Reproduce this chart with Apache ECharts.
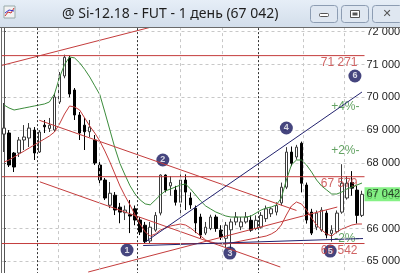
<!DOCTYPE html>
<html><head><meta charset="utf-8">
<script src="https://cdn.jsdelivr.net/npm/echarts@6/dist/echarts.min.js"></script>
<style>html,body{margin:0;padding:0;background:#fff;overflow:hidden}#c{width:400px;height:273px;}</style>
</head><body><div id="c"></div>
<script>
// ---- data ----
const opens  = [68878,68912,68300,68302,68698,68759,69000,68332,69150,69050,69003,69856,70650,71200,70222,69460,69150,68950,68698,67935,67478,66710,67015,66650,66480,66420,66600,66258,66100,65620,65950,66470,67630,67300,67170,66800,67478,66930,66620,66350,65860,66000,66350,65950,65700,65960,66200,66050,66200,66250,66000,66040,66300,66450,66500,66780,67260,68330,68180,68600,67325,66500,66040,65950,66470,65850,65900,66500,66930,67400,67170,66400];
const closes = [69061,67936,67875,68698,68790,69061,68302,68942,69100,69150,70009,70680,71220,70100,69460,68912,68950,69090,67996,67478,66929,67075,66563,66500,66560,66380,66258,65891,65600,66040,66400,67630,67170,67400,66800,67478,67110,66720,66170,65800,66040,66350,66000,65740,66100,66200,66350,66200,66350,65950,66250,66400,66600,66600,66700,67260,68330,67990,68480,67380,66258,65860,66470,66560,65800,65950,66470,67380,67380,67230,66400,67042];
const lows   = [68332,67875,67722,68180,68393,68485,68088,68302,68912,68942,68942,69795,70580,70000,69308,68698,68393,68790,67935,67325,66868,66620,66410,66160,66258,65860,66100,65800,65542,65542,65900,66400,67100,67000,66700,66400,66563,66600,65860,65700,65800,65950,65900,65650,65400,65400,66100,65950,66150,65900,65950,66000,66200,66350,66400,66700,67200,67900,68100,67100,66150,65800,65950,65900,65700,65600,65850,66450,66880,67000,66150,66350];
const highs  = [69826,69000,68332,68790,69154,69215,69093,69000,69308,69370,70131,70771,71300,71271,70283,69552,69370,69308,68850,68088,67540,67417,67110,66780,66700,66868,66700,66350,66200,66200,66500,67650,67650,67600,67300,67650,67650,67100,66700,66450,66200,66420,66420,66100,66200,66300,66500,66350,66500,66400,66400,66500,66700,66650,66800,67400,68480,68500,68550,68650,67400,66600,66550,66650,66550,66100,66550,67960,67600,67750,67300,67150];
const greenMA = [69765,69674,69613,69643,69674,69704,69735,69765,69796,69857,70100,70600,71000,71230,71200,71050,70850,70620,70350,70080,69550,69000,68450,67980,67630,67300,67050,66870,66750,66720,66868,67021,67143,67204,67265,67326,67356,67204,67021,66838,66686,66594,66503,66442,66381,66350,66350,66350,66350,66381,66472,66564,66625,66655,66716,66929,67478,67936,68088,68088,67936,67722,67478,67295,67173,67051,67051,67112,67204,67265,67326,67386];
const redMA = [68027,68088,68180,68271,68363,68454,68546,68637,68729,68820,68942,69186,69491,69735,69704,69613,69369,69125,68911,68667,68363,68027,67661,67296,66991,66716,66411,66137,65893,65771,65832,65954,66015,66076,66106,66137,66106,66015,65893,65771,65649,65588,65557,65527,65527,65557,65588,65618,65649,65679,65710,65740,65771,65832,65923,66106,66411,66686,66808,66747,66564,66320,66106,65954,65832,65771,65893,65984,66045,66106,66137,66137];
const levels = [71271, 67579, 65542];
const levelLabels = ['71 271', '67 579', '65 542'];
const pctLevels = [69724, 68383, 65701];
const pctLabels = ['+4%-', '+2%-', '-2%-'];
const redTrends = [
  [[-1, 70950], [35, 72370]],
  [[7, 69300], [58, 66550]],
  [[7.1, 67423], [54.8, 64826]],
  [[16.7, 64673], [66.1, 66655]]
];
const navyTrends = [
  [[27.6, 65481], [71.2, 65694]],
  [[28, 65588], [71, 70161]]
];
const markerNums = ['1','2','3','4','5','6'];
const markerPos = [[24.4,65344],[31.5,68088],[44.8,65252],[56,69064],[64.7,65313],[69.6,70649]];
const monthLines = [6.5, 26.5, 50.5];
const gridLines = [10.7, 18.9, 35, 43.3, 59.3, 67.4];
const lastPrice = 67042;
const titleText = '@ Si-12.18 - FUT - 1 день (67 042)';

// ---- chart ----
const N = opens.length;
const cats = opens.map((_, i) => String(i));
const candle = opens.map((o, i) => [o, closes[i], lows[i], highs[i]]);
const fmt = v => String(v).replace(/\B(?=(\d{3})+(?!\d))/g, ' ');
const RED = '#c43c3c', NAVY = '#22226e', GREEN = '#3c8c3c';

const series = [
  { type: 'candlestick', data: candle, barWidth: 3,
    itemStyle: { color: '#ffffff', color0: '#000000', borderColor: '#3a3a3a', borderColor0: '#000000', borderWidth: 1 } },
  { type: 'line', data: greenMA, symbol: 'none', lineStyle: { color: GREEN, width: 1 } },
  { type: 'line', data: redMA, symbol: 'none', lineStyle: { color: RED, width: 1 } },
  { type: 'line', xAxisIndex: 1, data: [], symbol: 'none', silent: true,
    markLine: { silent: true, symbol: 'none', label: { show: false },
      data: monthLines.map(v => ({ xAxis: v, lineStyle: { color: '#333', type: [2, 2], width: 1 } }))
        .concat(gridLines.map(v => ({ xAxis: v, lineStyle: { color: '#c8c8c8', type: [3, 3], width: 1 } }))) } }
];
levels.forEach(lv => series.push({ type: 'line', xAxisIndex: 1, data: [[-0.5, lv], [N - 0.5, lv]], symbol: 'none', lineStyle: { color: RED, width: 1 } }));
redTrends.forEach(t => series.push({ type: 'line', xAxisIndex: 1, data: t, symbol: 'none', lineStyle: { color: RED, width: 1 } }));
navyTrends.forEach(t => series.push({ type: 'line', xAxisIndex: 1, data: t, symbol: 'none', lineStyle: { color: NAVY, width: 1 } }));
series.push({ type: 'scatter', xAxisIndex: 1, symbolSize: 0, clip: false,
  data: levels.map((lv, i) => ({ value: [N - 0.9, lv], label: { formatter: levelLabels[i] } })),
  label: { show: true, position: 'left', offset: [0, 7], color: RED, fontSize: 12, fontFamily: 'Liberation Sans' } });
series.push({ type: 'scatter', xAxisIndex: 1, symbolSize: 0, clip: false,
  data: pctLevels.map((lv, i) => ({ value: [N - 0.5, lv], label: { formatter: pctLabels[i] } })),
  label: { show: true, position: 'left', offset: [0, 0], color: GREEN, fontSize: 12, fontFamily: 'Liberation Sans' } });
series.push({ type: 'scatter', xAxisIndex: 1, symbol: 'circle', symbolSize: 13, clip: false,
  itemStyle: { color: '#16165e' },
  data: markerPos.map((p, i) => ({ value: p, label: { formatter: markerNums[i] } })),
  label: { show: true, position: 'inside', color: '#fff', fontSize: 9, fontWeight: 'bold', fontFamily: 'Liberation Sans' } });
series.push({ type: 'scatter', xAxisIndex: 1, symbolSize: 0, clip: false,
  data: [[N - 0.5, lastPrice]],
  label: { show: true, position: 'right', distance: 0, formatter: fmt(lastPrice), backgroundColor: '#66ee66', color: '#111', fontSize: 11, fontFamily: 'Liberation Sans', padding: [2, 1, 1, 2] } });

const chart = echarts.init(document.getElementById('c'), null, { renderer: 'canvas' });
chart.setOption({
  animation: false,
  backgroundColor: '#ffffff',
  grid: { left: 1.5, top: -1.1, width: 363, height: 295.2, containLabel: false, outerBoundsMode: 'none' },
  xAxis: [
    { type: 'category', data: cats, boundaryGap: true, axisLine: { show: false }, axisTick: { show: false }, axisLabel: { show: false }, splitLine: { show: false } },
    { type: 'value', min: -0.5, max: N - 0.5, show: false }
  ],
  yAxis: { type: 'value', position: 'right', min: 64000, max: 73000, interval: 1000, scale: true,
    axisLine: { show: true, lineStyle: { color: '#555' } },
    axisTick: { show: true, length: 2, lineStyle: { color: '#555' } },
    axisLabel: { formatter: fmt, color: '#222', fontSize: 11, fontFamily: 'Liberation Sans', margin: 2 },
    splitLine: { show: true, lineStyle: { color: '#c8c8c8', type: [3, 3] } } },
  series: series,
  graphic: [
    { type: 'rect', z: 100, shape: { x: 0, y: 0, width: 400, height: 27 },
      style: { fill: new echarts.graphic.LinearGradient(0, 0, 0, 1, [{ offset: 0, color: '#e6eef7' }, { offset: 1, color: '#d3deeb' }]) } },
    { type: 'line', z: 101, shape: { x1: 0, y1: 27.5, x2: 400, y2: 27.5 }, style: { stroke: '#6a6a6a', lineWidth: 1 } },
    { type: 'line', z: 101, shape: { x1: 1.5, y1: 27, x2: 1.5, y2: 273 }, style: { stroke: '#6a6a6a', lineWidth: 1 } },
    { type: 'rect', z: 101, shape: { x: 4, y: 6, width: 11, height: 12 }, style: { fill: '#f2f2f2', stroke: '#9aa', lineWidth: 1 } },
    { type: 'polyline', z: 102, shape: { points: [[5, 16], [8, 12], [11, 13], [14, 8]] }, style: { stroke: '#c33', lineWidth: 1, fill: null } },
    { type: 'polyline', z: 102, shape: { points: [[5, 13], [9, 10], [14, 11]] }, style: { stroke: '#33c', lineWidth: 1, fill: null } },
    { type: 'text', z: 101, style: { x: 62, y: 14, text: titleText, fill: '#1e1e1e', font: '14px "Noto Sans"', textVerticalAlign: 'middle' } },
    { type: 'rect', z: 101, shape: { x: 310.5, y: 5.5, width: 27, height: 17, r: 3 }, style: { fill: '#dfe7f1', stroke: '#8d9db3', lineWidth: 1 } },
    { type: 'rect', z: 101, shape: { x: 341.5, y: 5.5, width: 27, height: 17, r: 3 }, style: { fill: '#dfe7f1', stroke: '#8d9db3', lineWidth: 1 } },
    { type: 'rect', z: 101, shape: { x: 372.5, y: 5.5, width: 30, height: 17, r: 3 }, style: { fill: '#dfe7f1', stroke: '#8d9db3', lineWidth: 1 } },
    { type: 'rect', z: 102, shape: { x: 319.5, y: 13.5, width: 9, height: 3, r: 1 }, style: { fill: '#fff', stroke: '#555', lineWidth: 1 } },
    { type: 'rect', z: 102, shape: { x: 350.5, y: 10.5, width: 9, height: 7 }, style: { fill: '#fff', stroke: '#555', lineWidth: 1 } },
    { type: 'rect', z: 103, shape: { x: 352.5, y: 12.5, width: 5, height: 3 }, style: { fill: '#555' } },
    { type: 'text', z: 102, style: { x: 387, y: 14, text: '✕', fill: '#555', font: 'bold 11px "DejaVu Sans"', textAlign: 'center', textVerticalAlign: 'middle' } }
  ]
});
</script></body></html>
